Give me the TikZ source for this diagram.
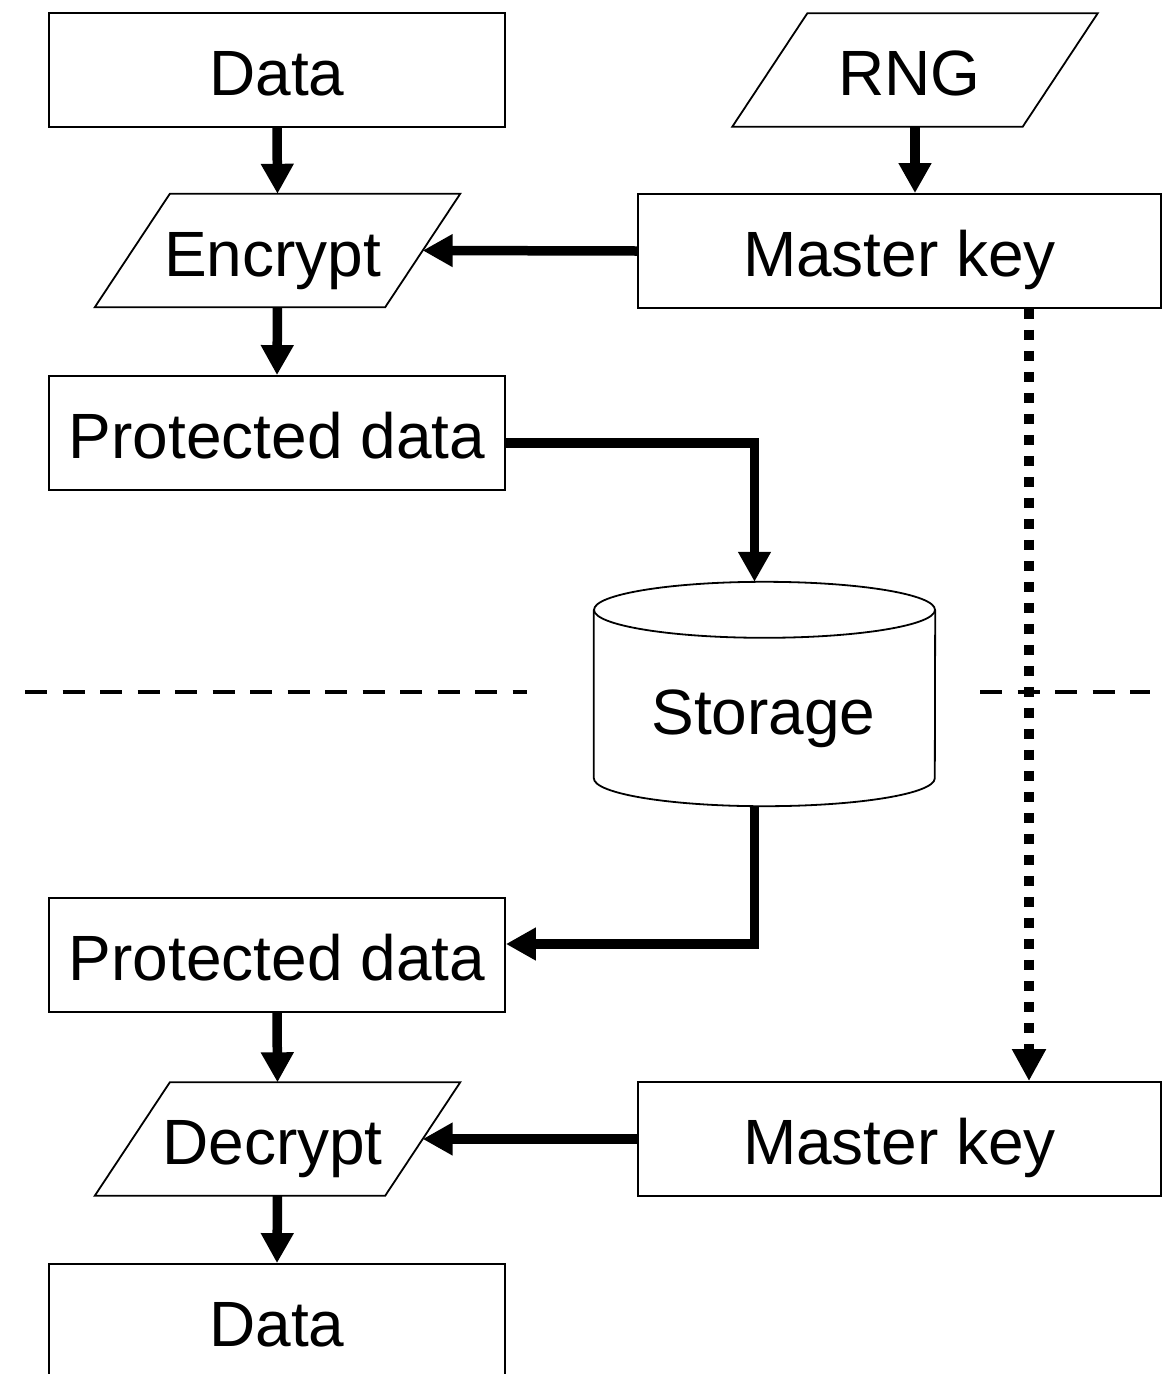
\documentclass[tikz,border=0pt]{standalone}
\usepackage{fontspec}
\setmainfont{Liberation Sans}
\usetikzlibrary{arrows.meta,calc}
\newcommand{\bigfont}{\fontsize{64}{76}\selectfont}
\begin{document}
\begin{tikzpicture}[x=1pt,y=1pt,
  textfix/.style={inner sep=0pt, font=\bigfont, text height=51pt, text depth=0pt},
  box/.style={draw, line width=1.8pt, minimum width=456pt, minimum height=114pt, textfix},
  keybox/.style={box, minimum width=523pt},
  % body of a parallelogram; its slanted outline is drawn afterwards
  parabody/.style={minimum width=290pt, minimum height=113pt, textfix},
  outline/.style={line width=1.8pt, line join=miter},
  flow/.style={line width=9.5pt, -{Triangle[length=30pt,width=31pt]}},
  keyflow/.style={line width=10pt, dash pattern=on 10pt off 11pt,
    -{Triangle[length=32pt,width=32pt]}},
  sep/.style={line width=4.5pt, dash pattern=on 22pt off 15.5pt},
  drum/.style={line width=1.8pt}
]
\clip (0,0) rectangle (1174,-1374);
\useasboundingbox (0,0) rectangle (1174,-1374);

% upper half: encryption
\node[box]      (data1) at (277,-70)      {Data};
\node[parabody] (rng)   at (915,-70)      {RNG\kern11pt};
\node[parabody] (enc)   at (277.5,-250.5) {Encrypt\kern10pt};
\node[keybox]   (mk1)   at (899.5,-251)   {Master key};
\node[box]      (pd1)   at (277,-433)     {Protected data};

% storage drum
\node[minimum width=341pt, minimum height=224pt, inner sep=0pt] (st) at (764.5,-694) {};
\node[textfix] (stlabel) at ($(st.center)+(-1,-14.5)$) {Storage};
\draw[drum] ($(st.north west)+(0,-28)$) -- ($(st.south west)+(0,28)$)
  arc[start angle=180, end angle=360, x radius=170.5, y radius=28]
  -- ($(st.north east)+(0,-28)$);
\draw[drum] ($(st.north)+(0,-28)$) ellipse[x radius=170.5, y radius=28];

% lower half: decryption
\node[box]      (pd2)   at (277,-955)     {Protected data};
\node[parabody] (dec)   at (277.5,-1139)  {Decrypt\kern10pt};
\node[keybox]   (mk2)   at (899.5,-1139)  {Master key};
\node[box]      (data2) at (277,-1321)    {Data};

% slanted outlines
\foreach \n in {rng,enc,dec}
  \draw[outline] ($(\n.north west)+(37.5,0)$) -- ($(\n.north east)+(37.5,0)$)
    -- ($(\n.south east)+(-37.5,0)$) -- ($(\n.south west)+(-37.5,0)$) -- cycle;

% separator
\coordinate (dl1) at (25,-692);
\coordinate (dl2) at (527,-692);
\coordinate (dr1) at (980,-692);
\coordinate (dr2) at (1150,-692);
\draw[sep] (dl1) -- (dl2);
\draw[sep] (dr1) -- (dr2);

% data flow
\draw[flow] (data1.south) -- (enc.north);
\draw[flow] (rng.south) -- (rng.south |- mk1.north);
\draw[flow] (mk1.west) -- (enc.east);
\draw[flow] (enc.south) -- (pd1.north);
\draw[flow] ([yshift=-10]pd1.east) -| ([xshift=-10]st.north);
\draw[flow] ([xshift=-10]st.south) |- ([yshift=11]pd2.east);
\draw[flow] (pd2.south) -- (dec.north);
\draw[flow] (mk2.west) -- (dec.east);
\draw[flow] (dec.south) -- (data2.north);

% key hand-over
\draw[keyflow] ([xshift=129.5]mk1.south) -- ([xshift=129.5]mk2.north);
\end{tikzpicture}
\end{document}
